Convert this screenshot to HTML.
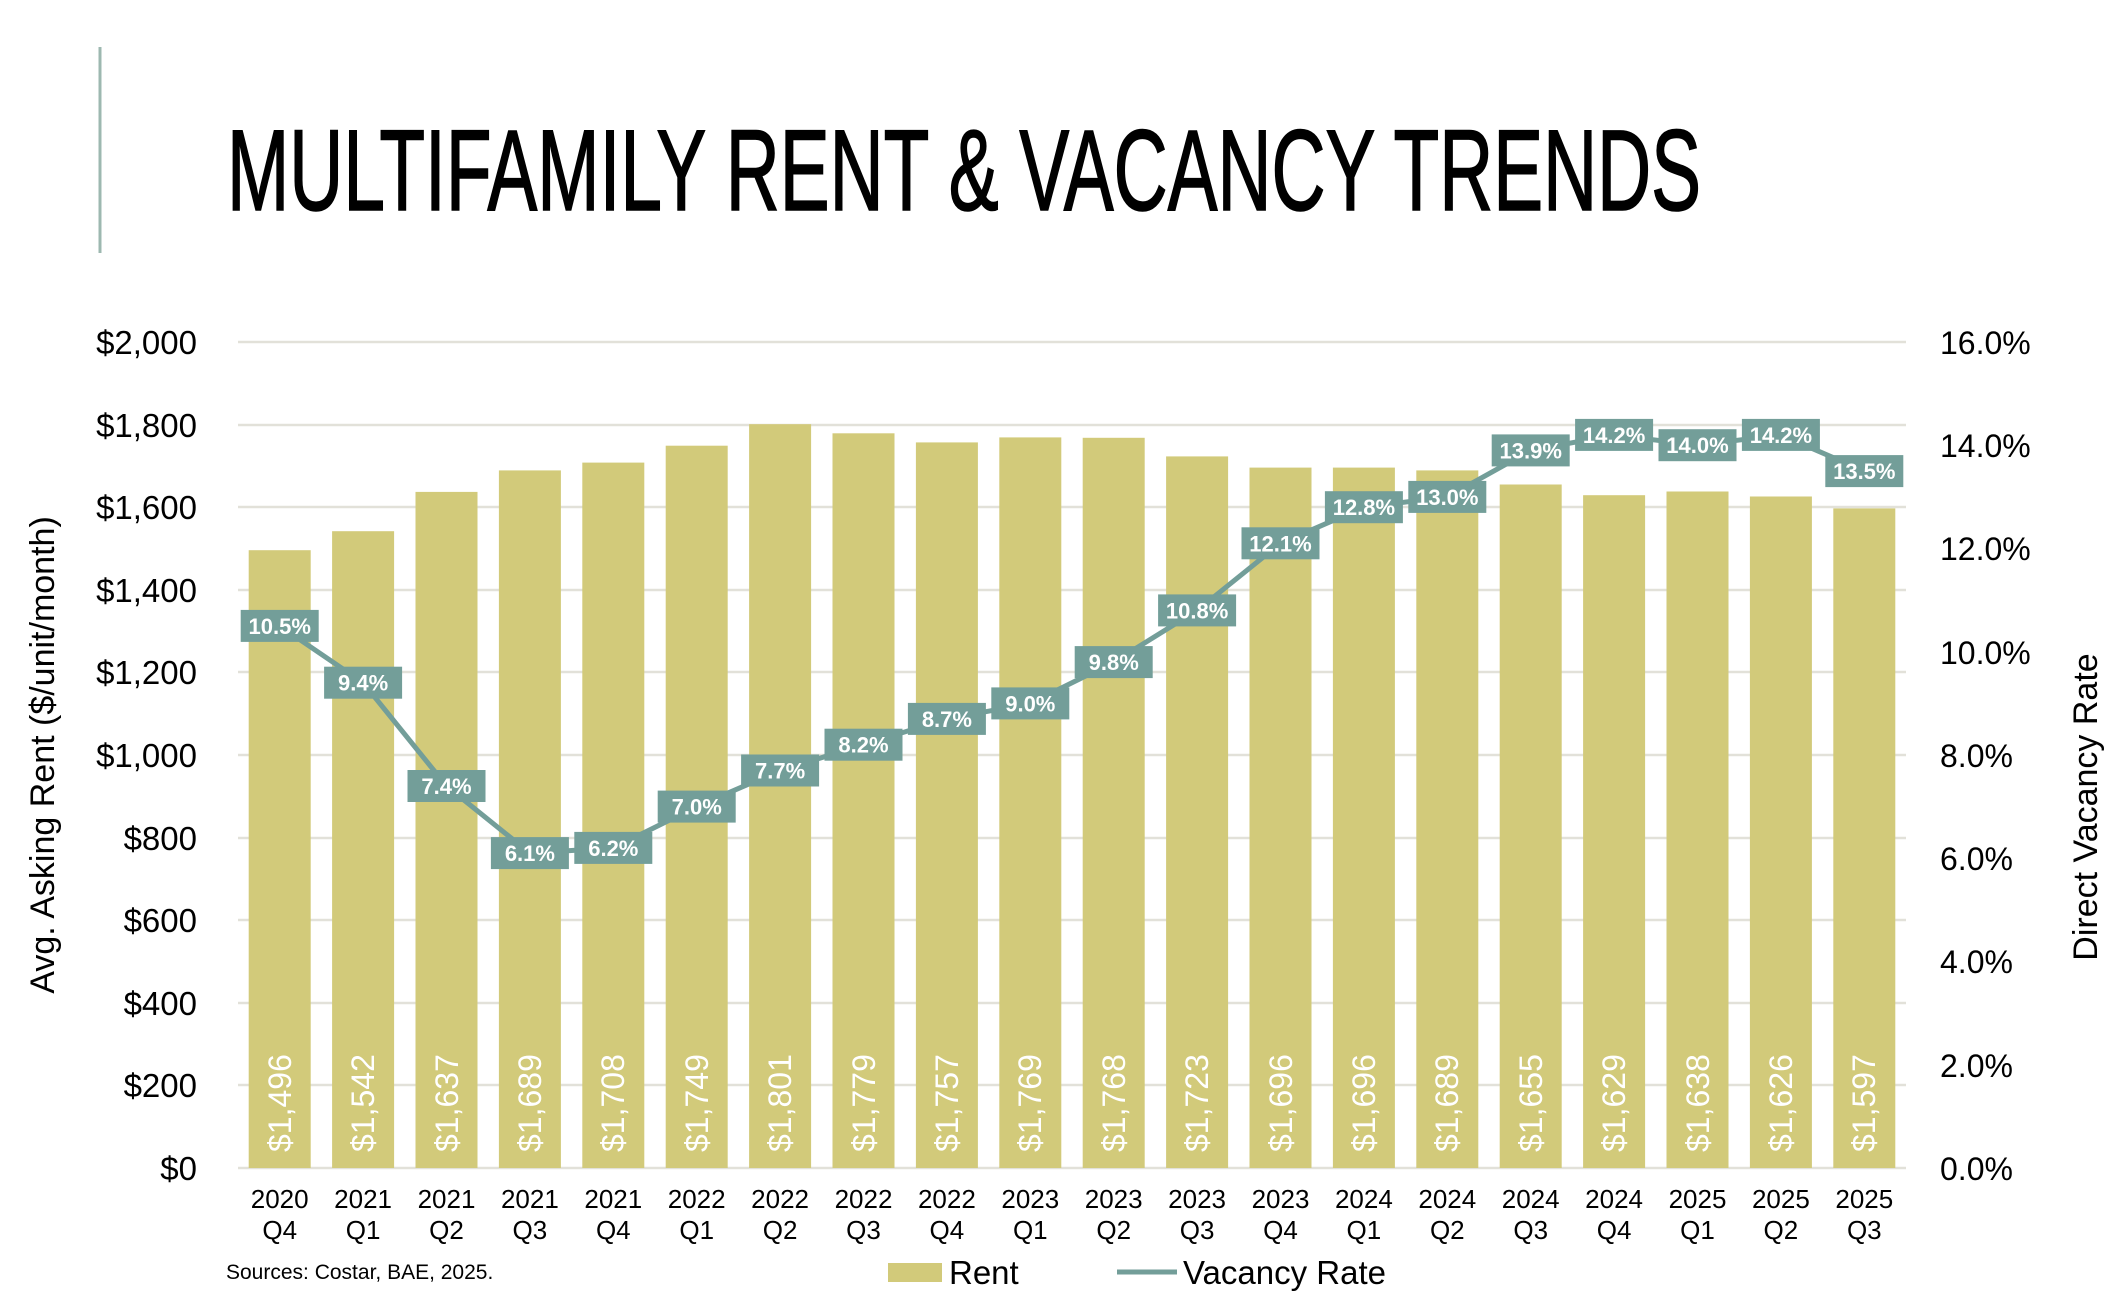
<!DOCTYPE html>
<html><head><meta charset="utf-8"><style>
html,body{margin:0;padding:0;background:#fff;}
svg{display:block;font-family:"Liberation Sans",Arial,sans-serif;}
</style></head><body>
<svg width="2120" height="1306" viewBox="0 0 2120 1306" xmlns="http://www.w3.org/2000/svg">
<rect width="2120" height="1306" fill="#fff"/>
<line x1="100" y1="47" x2="100" y2="253" stroke="#9db8b0" stroke-width="3"/>
<text x="227" y="210" font-family="'Liberation Sans Narrow','Liberation Sans',sans-serif" font-size="115" textLength="1474" lengthAdjust="spacingAndGlyphs" fill="#000" stroke="#000" stroke-width="1.6">MULTIFAMILY RENT &amp; VACANCY TRENDS</text>
<g stroke="#e2e1d9" stroke-width="2.5">
<line x1="238" x2="1906" y1="342" y2="342"/><line x1="238" x2="1906" y1="425" y2="425"/><line x1="238" x2="1906" y1="507" y2="507"/><line x1="238" x2="1906" y1="590" y2="590"/><line x1="238" x2="1906" y1="672" y2="672"/><line x1="238" x2="1906" y1="755" y2="755"/><line x1="238" x2="1906" y1="838" y2="838"/><line x1="238" x2="1906" y1="920" y2="920"/><line x1="238" x2="1906" y1="1003" y2="1003"/><line x1="238" x2="1906" y1="1085" y2="1085"/><line x1="238" x2="1906" y1="1168" y2="1168"/>
</g>
<g font-size="33" fill="#000" text-anchor="end">
<text x="197" y="354">$2,000</text><text x="197" y="437">$1,800</text><text x="197" y="519">$1,600</text><text x="197" y="602">$1,400</text><text x="197" y="684">$1,200</text><text x="197" y="767">$1,000</text><text x="197" y="850">$800</text><text x="197" y="932">$600</text><text x="197" y="1015">$400</text><text x="197" y="1097">$200</text><text x="197" y="1180">$0</text>
</g>
<g font-size="32" fill="#000">
<text x="1940" y="354">16.0%</text><text x="1940" y="457">14.0%</text><text x="1940" y="560">12.0%</text><text x="1940" y="664">10.0%</text><text x="1940" y="767">8.0%</text><text x="1940" y="870">6.0%</text><text x="1940" y="973">4.0%</text><text x="1940" y="1077">2.0%</text><text x="1940" y="1180">0.0%</text>
</g>
<text transform="translate(54,755) rotate(-90)" font-size="34" text-anchor="middle">Avg. Asking Rent ($/unit/month)</text>
<text transform="translate(2097,807) rotate(-90)" font-size="34" text-anchor="middle">Direct Vacancy Rate</text>
<g fill="#d2ca7a">
<rect x="248.7" y="550.2" width="62" height="617.8"/>
<rect x="332.1" y="531.2" width="62" height="636.8"/>
<rect x="415.5" y="491.9" width="62" height="676.1"/>
<rect x="498.9" y="470.4" width="62" height="697.6"/>
<rect x="582.3" y="462.6" width="62" height="705.4"/>
<rect x="665.7" y="445.7" width="62" height="722.3"/>
<rect x="749.1" y="424.2" width="62" height="743.8"/>
<rect x="832.5" y="433.3" width="62" height="734.7"/>
<rect x="915.9" y="442.4" width="62" height="725.6"/>
<rect x="999.3" y="437.4" width="62" height="730.6"/>
<rect x="1082.7" y="437.8" width="62" height="730.2"/>
<rect x="1166.1" y="456.4" width="62" height="711.6"/>
<rect x="1249.5" y="467.6" width="62" height="700.4"/>
<rect x="1332.9" y="467.6" width="62" height="700.4"/>
<rect x="1416.3" y="470.4" width="62" height="697.6"/>
<rect x="1499.7" y="484.5" width="62" height="683.5"/>
<rect x="1583.1" y="495.2" width="62" height="672.8"/>
<rect x="1666.5" y="491.5" width="62" height="676.5"/>
<rect x="1749.9" y="496.5" width="62" height="671.5"/>
<rect x="1833.3" y="508.4" width="62" height="659.6"/>
</g>
<g font-size="32" fill="#fff">
<text transform="translate(291,1152) rotate(-90)">$1,496</text>
<text transform="translate(374,1152) rotate(-90)">$1,542</text>
<text transform="translate(458,1152) rotate(-90)">$1,637</text>
<text transform="translate(541,1152) rotate(-90)">$1,689</text>
<text transform="translate(624,1152) rotate(-90)">$1,708</text>
<text transform="translate(708,1152) rotate(-90)">$1,749</text>
<text transform="translate(791,1152) rotate(-90)">$1,801</text>
<text transform="translate(875,1152) rotate(-90)">$1,779</text>
<text transform="translate(958,1152) rotate(-90)">$1,757</text>
<text transform="translate(1041,1152) rotate(-90)">$1,769</text>
<text transform="translate(1125,1152) rotate(-90)">$1,768</text>
<text transform="translate(1208,1152) rotate(-90)">$1,723</text>
<text transform="translate(1292,1152) rotate(-90)">$1,696</text>
<text transform="translate(1375,1152) rotate(-90)">$1,696</text>
<text transform="translate(1458,1152) rotate(-90)">$1,689</text>
<text transform="translate(1542,1152) rotate(-90)">$1,655</text>
<text transform="translate(1625,1152) rotate(-90)">$1,629</text>
<text transform="translate(1709,1152) rotate(-90)">$1,638</text>
<text transform="translate(1792,1152) rotate(-90)">$1,626</text>
<text transform="translate(1875,1152) rotate(-90)">$1,597</text>
</g>
<polyline fill="none" stroke="#739e99" stroke-width="5" stroke-linejoin="round" points="279.7,625.9 363.1,682.7 446.5,786 529.9,853.1 613.3,847.9 696.7,806.6 780.1,770.5 863.5,744.7 946.9,718.9 1030.3,703.4 1113.7,662.1 1197.1,610.4 1280.5,543.3 1363.9,507.2 1447.3,496.9 1530.7,450.4 1614.1,434.9 1697.5,445.2 1780.9,434.9 1864.3,471.1"/>
<g fill="#739e99">
<rect x="240.7" y="609.9" width="78" height="32"/><rect x="324.1" y="666.7" width="78" height="32"/><rect x="407.5" y="770" width="78" height="32"/><rect x="490.9" y="837.1" width="78" height="32"/><rect x="574.3" y="831.9" width="78" height="32"/><rect x="657.7" y="790.6" width="78" height="32"/><rect x="741.1" y="754.5" width="78" height="32"/><rect x="824.5" y="728.7" width="78" height="32"/><rect x="907.9" y="702.9" width="78" height="32"/><rect x="991.3" y="687.4" width="78" height="32"/><rect x="1074.7" y="646.1" width="78" height="32"/><rect x="1158.1" y="594.4" width="78" height="32"/><rect x="1241.5" y="527.3" width="78" height="32"/><rect x="1324.9" y="491.2" width="78" height="32"/><rect x="1408.3" y="480.9" width="78" height="32"/><rect x="1491.7" y="434.4" width="78" height="32"/><rect x="1575.1" y="418.9" width="78" height="32"/><rect x="1658.5" y="429.2" width="78" height="32"/><rect x="1741.9" y="418.9" width="78" height="32"/><rect x="1825.3" y="455.1" width="78" height="32"/>
</g>
<g font-size="22" font-weight="bold" fill="#fff" text-anchor="middle">
<text x="279.7" y="633.9">10.5%</text><text x="363.1" y="690.7">9.4%</text><text x="446.5" y="794">7.4%</text><text x="529.9" y="861.1">6.1%</text><text x="613.3" y="855.9">6.2%</text><text x="696.7" y="814.6">7.0%</text><text x="780.1" y="778.5">7.7%</text><text x="863.5" y="752.7">8.2%</text><text x="946.9" y="726.9">8.7%</text><text x="1030.3" y="711.4">9.0%</text><text x="1113.7" y="670.1">9.8%</text><text x="1197.1" y="618.4">10.8%</text><text x="1280.5" y="551.3">12.1%</text><text x="1363.9" y="515.2">12.8%</text><text x="1447.3" y="504.9">13.0%</text><text x="1530.7" y="458.4">13.9%</text><text x="1614.1" y="442.9">14.2%</text><text x="1697.5" y="453.2">14.0%</text><text x="1780.9" y="442.9">14.2%</text><text x="1864.3" y="479.1">13.5%</text>
</g>
<g font-size="26" fill="#000" text-anchor="middle">
<text x="279.7" y="1208">2020</text><text x="279.7" y="1239">Q4</text>
<text x="363.1" y="1208">2021</text><text x="363.1" y="1239">Q1</text>
<text x="446.5" y="1208">2021</text><text x="446.5" y="1239">Q2</text>
<text x="529.9" y="1208">2021</text><text x="529.9" y="1239">Q3</text>
<text x="613.3" y="1208">2021</text><text x="613.3" y="1239">Q4</text>
<text x="696.7" y="1208">2022</text><text x="696.7" y="1239">Q1</text>
<text x="780.1" y="1208">2022</text><text x="780.1" y="1239">Q2</text>
<text x="863.5" y="1208">2022</text><text x="863.5" y="1239">Q3</text>
<text x="946.9" y="1208">2022</text><text x="946.9" y="1239">Q4</text>
<text x="1030.3" y="1208">2023</text><text x="1030.3" y="1239">Q1</text>
<text x="1113.7" y="1208">2023</text><text x="1113.7" y="1239">Q2</text>
<text x="1197.1" y="1208">2023</text><text x="1197.1" y="1239">Q3</text>
<text x="1280.5" y="1208">2023</text><text x="1280.5" y="1239">Q4</text>
<text x="1363.9" y="1208">2024</text><text x="1363.9" y="1239">Q1</text>
<text x="1447.3" y="1208">2024</text><text x="1447.3" y="1239">Q2</text>
<text x="1530.7" y="1208">2024</text><text x="1530.7" y="1239">Q3</text>
<text x="1614.1" y="1208">2024</text><text x="1614.1" y="1239">Q4</text>
<text x="1697.5" y="1208">2025</text><text x="1697.5" y="1239">Q1</text>
<text x="1780.9" y="1208">2025</text><text x="1780.9" y="1239">Q2</text>
<text x="1864.3" y="1208">2025</text><text x="1864.3" y="1239">Q3</text>
</g>
<text x="226" y="1279" font-size="21" fill="#000">Sources: Costar, BAE, 2025.</text>
<rect x="888" y="1263" width="54" height="19" fill="#d2ca7a"/>
<text x="949" y="1284" font-size="33">Rent</text>
<line x1="1117" y1="1272" x2="1177" y2="1272" stroke="#739e99" stroke-width="5"/>
<text x="1183" y="1284" font-size="33">Vacancy Rate</text>
</svg>
</body></html>
